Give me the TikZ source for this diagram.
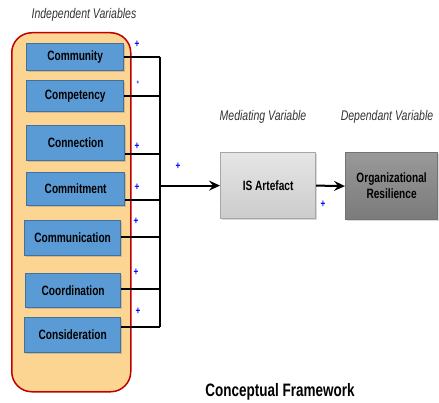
\documentclass[tikz,border=0pt]{standalone}
\usepackage{fontspec}
\setmainfont[FakeStretch=0.75]{Liberation Sans}
\usetikzlibrary{arrows.meta,shadows}
\definecolor{peach}{HTML}{FDD592}
\definecolor{framered}{HTML}{C00000}
\definecolor{boxblue}{HTML}{5B9BD5}
\definecolor{boxedge}{HTML}{41719C}
\definecolor{plusblue}{HTML}{0000FF}
\begin{document}
\begin{tikzpicture}[x=1pt,y=-1pt,
  var/.style={draw=boxedge,line width=1.3pt,fill=boxblue,anchor=north west,inner sep=0pt,
    font=\fontsize{13.5}{15}\selectfont\bfseries,
    drop shadow={shadow xshift=1.2pt,shadow yshift=-1.2pt,opacity=0.35}},
  grey/.style={anchor=north west,inner sep=0pt,align=center,line width=1.2pt,
    font=\fontsize{13.5}{16}\selectfont\bfseries,
    drop shadow={shadow xshift=1.5pt,shadow yshift=-1.5pt,opacity=0.3}},
  head/.style={font=\fontsize{14}{16}\selectfont\itshape,text=black!80},
  plus/.style={text=plusblue,font=\fontsize{11}{11}\selectfont\bfseries,inner sep=0pt},
  wire/.style={line width=1.8pt,black},
  arr/.style={line width=2pt,black,-{Stealth[length=11pt,width=10pt,inset=4pt]}}]
\useasboundingbox (0,0) rectangle (439,403);

% group frame
\node[draw=framered,line width=1.5pt,fill=peach,rounded corners=20pt,anchor=north west,
  minimum width=119pt,minimum height=359pt,inner sep=0pt] (frame) at (11,32) {};

\node[head] (indep) at (84,15) {Independent Variables};
\node[head] (med) at (263,117) {Mediating Variable};
\node[head] (dep) at (387,117) {Dependant Variable};

% independent variables
\node[var,minimum width=97pt,minimum height=27pt] (v1) at (26,43) {Community};
\node[var,minimum width=97pt,minimum height=31pt] (v2) at (26,80) {Competency};
\node[var,minimum width=98pt,minimum height=35pt] (v3) at (26,125) {Connection};
\node[var,minimum width=98pt,minimum height=33pt] (v4) at (26,172) {Commitment};
\node[var,minimum width=96pt,minimum height=35pt] (v5) at (24,220) {Communication};
\node[var,minimum width=95pt,minimum height=34pt] (v6) at (25,273) {Coordination};
\node[var,minimum width=96pt,minimum height=35pt] (v7) at (24,317) {Consideration};

% mediating / dependent
\node[grey,draw=black!35,top color=black!10,bottom color=black!20,
  minimum width=95pt,minimum height=66pt] (isa) at (220,152) {IS Artefact};
\node[grey,draw=black!55,top color=black!40,bottom color=black!52,
  minimum width=92pt,minimum height=67pt] (org) at (345,152) {Organizational\\Resilience};

% bus coordinates
\coordinate (b1) at (160,57);
\coordinate (b2) at (160,96);
\coordinate (b3) at (160,154);
\coordinate (b4) at (160,200);
\coordinate (b5) at (160,237);
\coordinate (b6) at (160,289);
\coordinate (b7) at (160,327);
\coordinate (j) at (isa.west -| b1);

\draw[wire] (b1) -- (b7);
\draw[wire] (b1 -| v1.east) -- (b1);
\draw[wire] (b2 -| v2.east) -- (b2);
\draw[wire] (b3 -| v3.east) -- (b3);
\draw[wire] (b4 -| v4.east) -- (b4);
\draw[wire] (b5 -| v5.east) -- (b5);
\draw[wire] (b6 -| v6.east) -- (b6);
\draw[wire] (b7 -| v7.east) -- (b7);

\draw[arr] (j) -- (isa.west);
\draw[arr] (isa.east) -- (org.west);

% plus signs
\node[plus] (p1) at (137,44) {+};
\node[plus,font=\fontsize{6}{6}\selectfont\bfseries] (p2) at (138,83) {+};
\node[plus] (p3) at (137,146) {+};
\node[plus] (p4) at (178,166) {+};
\node[plus] (p5) at (137,187) {+};
\node[plus] (p6) at (136,221) {+};
\node[plus] (p7) at (136,272) {+};
\node[plus] (p8) at (138,311) {+};
\node[plus] (p9) at (323,204) {+};

\node[font=\fontsize{18}{20}\selectfont\bfseries] (title) at (280,392) {Conceptual Framework};
\end{tikzpicture}
\end{document}
